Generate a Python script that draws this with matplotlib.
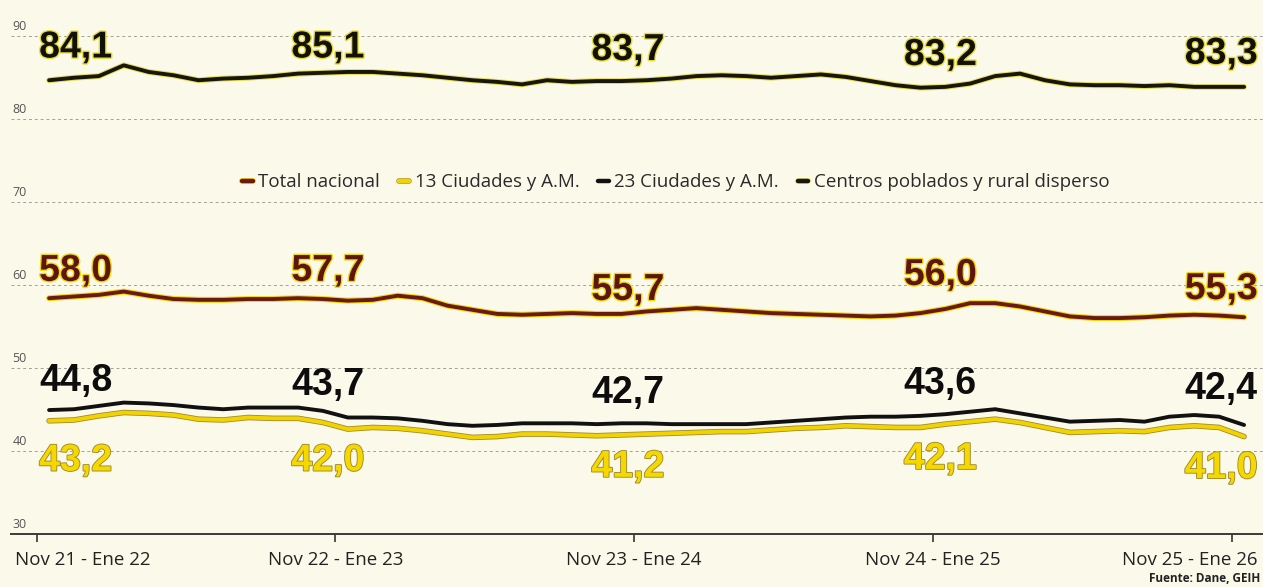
import matplotlib
matplotlib.use("Agg")
import numpy as np
import matplotlib.pyplot as plt
import matplotlib.patheffects as pe
from matplotlib.transforms import blended_transform_factory

# ---------------- data ----------------
series_names = ["Total nacional", "13 Ciudades y A.M.", "23 Ciudades y A.M.",
                "Centros poblados y rural disperso"]

total_nacional = [58.4, 58.6, 58.8, 59.2, 58.7, 58.3, 58.2, 58.2, 58.3, 58.3, 58.4, 58.3,
                  58.1, 58.2, 58.7, 58.4, 57.5, 57.0, 56.5, 56.4, 56.5, 56.6, 56.5, 56.5,
                  56.8, 57.0, 57.2, 57.0, 56.8, 56.6, 56.5, 56.4, 56.3, 56.2, 56.3, 56.6,
                  57.1, 57.8, 57.8, 57.4, 56.8, 56.2, 56.0, 56.0, 56.1, 56.3, 56.4, 56.3,
                  56.1]

ciudades_13 = [43.6, 43.7, 44.2, 44.6, 44.5, 44.3, 43.8, 43.7, 44.0, 43.9, 43.9, 43.4,
               42.6, 42.8, 42.7, 42.4, 42.0, 41.6, 41.7, 42.0, 42.0, 41.9, 41.8, 41.9,
               42.0, 42.1, 42.2, 42.3, 42.3, 42.5, 42.7, 42.8, 43.0, 42.9, 42.8, 42.8,
               43.2, 43.5, 43.8, 43.4, 42.8, 42.2, 42.3, 42.4, 42.3, 42.8, 43.0, 42.8,
               41.7]

ciudades_23 = [44.9, 45.0, 45.4, 45.8, 45.7, 45.5, 45.2, 45.0, 45.2, 45.2, 45.2, 44.8,
               44.0, 44.0, 43.9, 43.6, 43.2, 43.0, 43.1, 43.3, 43.3, 43.3, 43.2, 43.3,
               43.3, 43.2, 43.2, 43.2, 43.2, 43.4, 43.6, 43.8, 44.0, 44.1, 44.1, 44.2,
               44.4, 44.7, 45.0, 44.5, 44.0, 43.5, 43.6, 43.7, 43.5, 44.1, 44.3, 44.1,
               43.1]

centros_rural = [84.7, 85.0, 85.2, 86.5, 85.7, 85.3, 84.7, 84.9, 85.0, 85.2, 85.5, 85.6,
                 85.7, 85.7, 85.5, 85.3, 85.0, 84.7, 84.5, 84.2, 84.7, 84.5, 84.6, 84.6,
                 84.7, 84.9, 85.2, 85.3, 85.2, 85.0, 85.2, 85.4, 85.1, 84.6, 84.1, 83.8,
                 83.9, 84.3, 85.2, 85.5, 84.7, 84.2, 84.1, 84.1, 84.0, 84.1, 83.9, 83.9,
                 83.9]

tick_index = [0, 12, 24, 36, 48]
tick_labels = ["Nov 21 - Ene 22", "Nov 22 - Ene 23", "Nov 23 - Ene 24",
               "Nov 24 - Ene 25", "Nov 25 - Ene 26"]

labels_total = ["58,0", "57,7", "55,7", "56,0", "55,3"]
labels_13 = ["43,2", "42,0", "41,2", "42,1", "41,0"]
labels_23 = ["44,8", "43,7", "42,7", "43,6", "42,4"]
labels_centros = ["84,1", "85,1", "83,7", "83,2", "83,3"]

y_ticks = [30, 40, 50, 60, 70, 80, 90]

# ---------------- layout / style ----------------
BG = "#fbf9ea"
C_TOTAL = "#6a1a12"
C_13 = "#f2d300"
C_23 = "#111111"
C_CEN = "#16160a"
YEL = "#f3d90a"

# label layout (x in month units, y in value units)
lab_x = [-0.4, 11.2, 23.25, 35.8, 48.55]
lab_ha = ["left", "center", "center", "center", "right"]
lab_y_centros = [88.65, 88.65, 88.35, 87.75, 87.9]
lab_y_total = [61.7, 61.7, 59.4, 61.2, 59.5]
lab_y_23 = [48.4, 47.9, 46.95, 48.0, 47.4]
lab_y_13 = [38.8, 38.8, 38.05, 39.0, 37.9]

SANS = ["Open Sans", "DejaVu Sans"]
BOLD = ["Liberation Sans", "DejaVu Sans"]

fig = plt.figure(figsize=(12.63, 5.87), dpi=100, facecolor=BG)
ax = fig.add_axes([0.0087, 0.0911, 0.9913, 0.8682])
ax.set_facecolor(BG)
ax.set_xlim(-1.53, 48.76)
ax.set_ylim(30, 91.5)

x = np.arange(len(total_nacional))

# grid
for v in y_ticks[1:]:
    ax.axhline(v, color="#a3a195", lw=0.7, dashes=(3, 3), zorder=1)
ytr = blended_transform_factory(ax.transAxes, ax.transData)
for v in y_ticks:
    ax.text(0.001, v + 0.35, str(v), transform=ytr, ha="left", va="bottom",
            fontsize=9, color="#555555", family=SANS)

# lines
h_total, = ax.plot(x, total_nacional, color=C_TOTAL, lw=2.8, zorder=4,
                   solid_capstyle="round", label=series_names[0],
                   path_effects=[pe.Stroke(linewidth=4.3, foreground=YEL), pe.Normal()])
h_13, = ax.plot(x, ciudades_13, color=C_13, lw=2.8, zorder=3,
                solid_capstyle="round", label=series_names[1],
                path_effects=[pe.Stroke(linewidth=4.0, foreground="#a08a30"), pe.Normal()])
h_23, = ax.plot(x, ciudades_23, color=C_23, lw=2.8, zorder=4,
                solid_capstyle="round", label=series_names[2])
h_cen, = ax.plot(x, centros_rural, color=C_CEN, lw=2.8, zorder=4,
                 solid_capstyle="round", label=series_names[3],
                 path_effects=[pe.Stroke(linewidth=4.2, foreground="#e8dc50"), pe.Normal()])

# value labels
def put_labels(texts, ys, color, effects):
    for t, xx, yy, ha in zip(texts, lab_x, ys, lab_ha):
        ax.text(xx, yy, t, ha=ha, va="center", fontsize=27, fontweight="bold",
                family=BOLD, color=color, zorder=6, path_effects=effects,
                clip_on=False)

put_labels(labels_centros, lab_y_centros, "#111108",
           [pe.Stroke(linewidth=2.0, foreground="#e9dc3a"), pe.Normal()])
put_labels(labels_total, lab_y_total, "#5c1510",
           [pe.Stroke(linewidth=2.0, foreground=YEL), pe.Normal()])
put_labels(labels_23, lab_y_23, "#0d0d0d", None)
put_labels(labels_13, lab_y_13, "#f4d800",
           [pe.Stroke(linewidth=1.3, foreground="#a08a30"), pe.Normal()])

# legend
leg = ax.legend(handles=[h_total, h_13, h_23, h_cen], loc="center",
                bbox_to_anchor=(0.531, 0.689), ncol=4, frameon=False,
                handlelength=0.55, handletextpad=0.3, columnspacing=1.0,
                prop={"family": SANS, "size": 13.5}, borderaxespad=0)
for t in leg.get_texts():
    t.set_color("#2a2a2a")
for lh in leg.get_lines():
    lh.set_linewidth(3.2)

# axes / ticks
for s in ["left", "right", "top"]:
    ax.spines[s].set_visible(False)
ax.spines["bottom"].set_color("#3a3a3a")
ax.spines["bottom"].set_linewidth(1.4)
ax.set_yticks([])
ax.set_xticks([i - 0.5 for i in tick_index])
ax.set_xticklabels([])
ax.tick_params(axis="x", direction="out", length=6, width=1.2, color="#333333")

xtr = blended_transform_factory(ax.transData, ax.transAxes)
tick_text_x = [-1.37, 11.5, 23.5, 35.5, 48.55]
tick_text_ha = ["left", "center", "center", "center", "right"]
for lbl, xx, ha in zip(tick_labels, tick_text_x, tick_text_ha):
    ax.text(xx, -0.052, lbl, transform=xtr, ha=ha, va="center", fontsize=13.5,
            family=SANS, color="#222222", clip_on=False)

fig.text(0.998, 0.004, "Fuente: Dane, GEIH", ha="right", va="bottom",
         fontsize=8.5, fontweight="bold", family=SANS, color="#222222")

fig.savefig("out.png", dpi=100, facecolor=BG)
